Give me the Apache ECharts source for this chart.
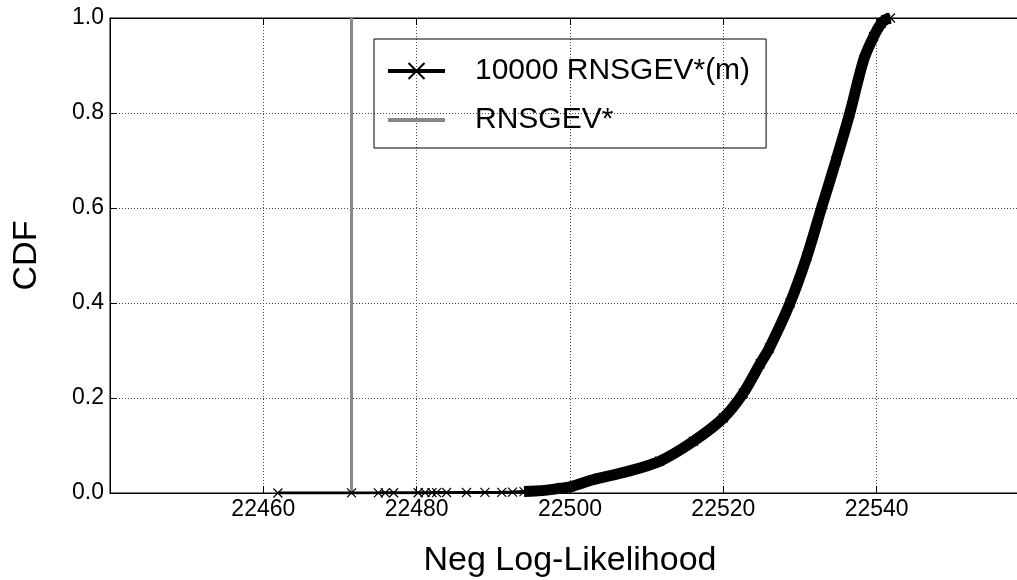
<!DOCTYPE html>
<html>
<head>
<meta charset="utf-8">
<script src="https://cdn.jsdelivr.net/npm/echarts@6/dist/echarts.min.js"></script>
<style>
html,body{margin:0;padding:0;background:#fff;}
#chart{width:1017px;height:580px;}
</style>
</head>
<body>
<div id="chart"></div>
<script>
const nllValues = [22461.9, 22471.5, 22475.0, 22475.9, 22477.0, 22480.2, 22481.1, 22482.0, 22482.6, 22483.9,
  22486.5, 22488.9, 22491.1, 22492.5, 22494.0, 22495.5, 22497.0, 22498.7, 22500.0, 22503.0,
  22507.4, 22511.7, 22516.1, 22520.0, 22522.6, 22524.8, 22526.0, 22528.7, 22530.9, 22532.8,
  22534.7, 22536.5, 22538.3, 22539.6, 22540.6, 22541.2, 22541.8];
const cdfValues = [0.0001, 0.0002, 0.0003, 0.0004, 0.0005, 0.0006, 0.0007, 0.0008, 0.0009, 0.0010,
  0.0011, 0.0012, 0.0014, 0.002, 0.003, 0.004, 0.006, 0.010, 0.013, 0.028,
  0.045, 0.067, 0.109, 0.158, 0.21, 0.272, 0.305, 0.40, 0.498, 0.60,
  0.70, 0.80, 0.912, 0.961, 0.989, 0.997, 1.0];
// Reference value RNSGEV*
const rnsgevStar = 22471.5;
const rnsgevCdf = [0, 1];

const seriesNames = ['10000 RNSGEV*(m)', 'RNSGEV*'];
const xMin = 22440, xMax = 22560, xStep = 20;
const yMin = 0, yMax = 1, yStep = 0.2;

const ecdf = nllValues.map((v, i) => [v, cdfValues[i]]);
const band = ecdf.filter(p => p[1] >= 0.003);
const vline = rnsgevCdf.map(c => [rnsgevStar, c]);

const FONT = 'Liberation Sans, Arial, Helvetica, sans-serif';
const chart = echarts.init(document.getElementById('chart'), null, {renderer: 'canvas'});
const gridLine = {show: true, lineStyle: {color: '#444', width: 1, type: [1, 2]}};

chart.setOption({
  animation: false,
  backgroundColor: '#fff',
  textStyle: {fontFamily: FONT, color: '#000'},
  grid: {left: 110, top: 18, width: 920, height: 475, outerBoundsMode: 'none', containLabel: false,
         show: true, borderColor: '#000', borderWidth: 1, backgroundColor: 'transparent'},
  legend: {
    orient: 'vertical', left: 374, top: 39,
    padding: [17, 16, 13, 12],
    itemWidth: 57, itemHeight: 20, itemGap: 19,
    borderColor: '#000', borderWidth: 1, borderRadius: 0,
    textStyle: {fontFamily: FONT, fontSize: 30, lineHeight: 30, color: '#000', padding: [0, 0, 0, 25]},
    data: [
      {name: seriesNames[0], lineStyle: {width: 4, color: '#000'}},
      {name: seriesNames[1], icon: 'path://M0,0L57,0L57,4L0,4Z', itemStyle: {color: '#888'}}
    ]
  },
  xAxis: [{
    type: 'value', min: xMin, max: xMax, interval: xStep,
    name: 'Neg Log-Likelihood', nameLocation: 'middle', nameGap: 51,
    nameTextStyle: {fontFamily: FONT, fontSize: 34, color: '#000'},
    axisLine: {show: true, lineStyle: {color: '#000', width: 1}},
    axisTick: {show: true, inside: true, length: 7, lineStyle: {color: '#000'}},
    axisLabel: {fontFamily: FONT, fontSize: 23, color: '#000', margin: 5, showMinLabel: false, showMaxLabel: false,
                formatter: v => String(v)},
    splitLine: gridLine
  }, {
    type: 'value', position: 'top', min: xMin, max: xMax, interval: xStep,
    axisLine: {show: true, lineStyle: {color: '#000', width: 1}},
    axisTick: {show: true, inside: true, length: 7, lineStyle: {color: '#000'}},
    axisLabel: {show: false}, splitLine: {show: false}
  }],
  yAxis: [{
    type: 'value', min: yMin, max: yMax, interval: yStep,
    name: 'CDF', nameLocation: 'middle', nameGap: 66, nameRotate: 90,
    nameTextStyle: {fontFamily: FONT, fontSize: 34, color: '#000'},
    axisLine: {show: true, lineStyle: {color: '#000', width: 1}},
    axisTick: {show: true, inside: true, length: 7, lineStyle: {color: '#000'}},
    axisLabel: {fontFamily: FONT, fontSize: 23, color: '#000', margin: 6, formatter: v => v.toFixed(1)},
    splitLine: gridLine
  }],
  series: [
    {
      name: seriesNames[1], type: 'line', data: vline,
      symbol: 'none', lineStyle: {color: '#888', width: 3}, itemStyle: {color: '#888'},
      z: 2, clip: true
    },
    {
      name: '_band', type: 'line', data: band, smooth: 0.3,
      symbol: 'none', lineStyle: {color: '#000', width: 11}, itemStyle: {color: '#000'},
      z: 3, clip: true, silent: true
    },
    {
      name: seriesNames[0], type: 'line', data: ecdf,
      symbol: 'path://M0,0L10,10M10,0L0,10', symbolSize: 9, showAllSymbol: true,
      lineStyle: {color: '#000', width: 3},
      itemStyle: {color: '#000', borderColor: '#000', borderWidth: 1.2},
      z: 4, clip: true
    }
  ]
});
</script>
</body>
</html>
